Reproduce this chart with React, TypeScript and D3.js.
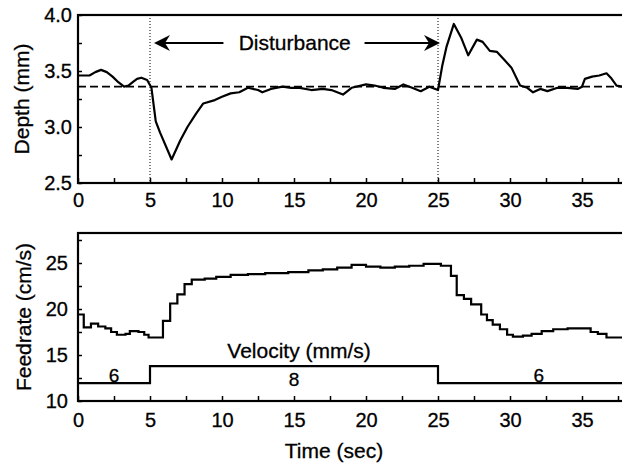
import React, { useRef, useEffect } from 'react';
import * as d3 from 'd3';

// depth trace (top panel)
const depthTime = [0, 0.8, 1.2, 1.6, 2.0, 2.4, 2.8, 3.2, 3.5, 3.8, 4.1, 4.4, 4.8, 5.1, 5.4, 5.7, 6.5, 7.1, 7.6, 8.2, 8.7, 9.5, 10, 10.6, 11.2, 11.8, 12.5, 12.8, 13.4, 14.2, 14.8, 15.4, 16.2, 17.0, 17.6, 18.4, 19.0, 20, 20.6, 21.2, 22, 22.6, 23.2, 23.8, 24.4, 25, 25.3, 25.6, 26.1, 26.6, 27.1, 27.7, 28.1, 28.6, 29.1, 29.6, 30.1, 30.7, 31.2, 31.6, 32.1, 32.6, 33.3, 34, 34.7, 35.0, 35.2, 35.7, 36.2, 36.7, 37.0, 37.4, 37.8];
const depthValue = [3.46, 3.46, 3.49, 3.51, 3.49, 3.45, 3.40, 3.36, 3.37, 3.40, 3.43, 3.44, 3.42, 3.35, 3.05, 2.95, 2.71, 2.88, 3.0, 3.12, 3.21, 3.24, 3.27, 3.30, 3.31, 3.35, 3.33, 3.31, 3.34, 3.36, 3.35, 3.35, 3.33, 3.34, 3.33, 3.29, 3.35, 3.38, 3.37, 3.35, 3.34, 3.38, 3.35, 3.32, 3.36, 3.33, 3.55, 3.72, 3.92, 3.80, 3.64, 3.78, 3.76, 3.68, 3.67, 3.60, 3.53, 3.37, 3.35, 3.31, 3.34, 3.32, 3.35, 3.35, 3.34, 3.36, 3.43, 3.45, 3.46, 3.48, 3.44, 3.37, 3.36];
const depthTarget = 3.36;
const disturbanceStart = 5;
const disturbanceEnd = 25;

// feedrate trace (bottom panel), stepped
const feedTime = [0, 0.4, 0.9, 1.4, 1.9, 2.3, 2.7, 3.3, 3.6, 4.2, 4.6, 4.9, 5.9, 6.4, 6.9, 7.4, 7.9, 8.8, 9.6, 10.6, 11.8, 13.0, 14.6, 16.0, 17.0, 18.0, 19.0, 20.0, 21.0, 22.0, 23.0, 24.0, 25.2, 25.9, 26.3, 26.8, 27.3, 28.0, 28.4, 28.8, 29.3, 29.8, 30.2, 30.9, 31.5, 32.2, 33.0, 34.0, 35.0, 35.6, 36.1, 36.7, 38];
const feedValue = [19.4, 18.0, 18.4, 18.1, 17.9, 17.5, 17.2, 17.3, 17.6, 17.5, 17.2, 16.9, 18.7, 20.6, 21.6, 22.7, 23.2, 23.3, 23.5, 23.7, 23.8, 23.9, 24.0, 24.2, 24.3, 24.5, 24.8, 24.6, 24.5, 24.6, 24.7, 24.9, 24.7, 23.6, 21.5, 21.1, 20.5, 19.4, 18.8, 18.3, 17.8, 17.2, 17.0, 17.1, 17.3, 17.6, 17.8, 17.9, 17.9, 17.5, 17.3, 16.9, 16.9];

// commanded velocity (mm/s)
const velocityTime = [0, 5, 25, 39];
const velocityValue = [6, 8, 6, 6];

const xTicks = d3.range(0, 38, 2.5);
const depthTicks = d3.range(2.5, 4.01, 0.25);
const feedTicks = d3.range(10, 28.3, 2.5);

const font = '"Liberation Sans", Arial, Helvetica, sans-serif';

const App = () => {
    const svgRef = useRef(null);

    useEffect(() => {
        const svg = d3.select(svgRef.current);
        svg.selectAll('*').remove();

        const width = 622;
        const height = 463;
        const left = 78;

        const x = d3.scaleLinear().domain([0, 38]).range([left, left + 14.4 * 38]);
        const yTop = d3.scaleLinear().domain([2.5, 4.0]).range([183, 15]);
        const yBot = d3.scaleLinear().domain([10, 28.26]).range([401, 233]);
        // velocity drawn on the feedrate axis
        const vScale = d3.scaleLinear().domain([6, 8]).range([11.95, 13.8]);

        const g = svg.append('g').style('font-family', font);

        // frames
        g.append('rect')
            .attr('x', x(0)).attr('y', yTop(4.0))
            .attr('width', x(38) - x(0)).attr('height', yTop(2.5) - yTop(4.0))
            .attr('fill', 'none').attr('stroke', '#000').attr('stroke-width', 2.2);
        g.append('rect')
            .attr('x', x(0)).attr('y', yBot(28.26))
            .attr('width', x(38) - x(0)).attr('height', yBot(10) - yBot(28.26))
            .attr('fill', 'none').attr('stroke', '#000').attr('stroke-width', 2.2);

        const fmtX = d => (d % 5 === 0 ? d : '');

        const styleAxis = (sel, size) => {
            sel.select('.domain').remove();
            sel.selectAll('.tick line').attr('stroke', '#000').attr('stroke-width', 1.5);
            sel.selectAll('text').style('font-size', size).style('fill', '#000').style('font-family', font)
                .attr('stroke', '#000').attr('stroke-width', 0.3);
        };

        g.append('g')
            .attr('transform', `translate(0,${yTop(2.5)})`)
            .call(d3.axisBottom(x).tickValues(xTicks).tickFormat(fmtX).tickSize(-5).tickPadding(10))
            .call(s => styleAxis(s, '20px'));

        g.append('g')
            .attr('transform', `translate(0,${yBot(10)})`)
            .call(d3.axisBottom(x).tickValues(xTicks).tickFormat(fmtX).tickSize(-5).tickPadding(12))
            .call(s => styleAxis(s, '20px'));

        g.append('g')
            .attr('transform', `translate(${left},0)`)
            .call(d3.axisLeft(yTop).tickValues(depthTicks)
                .tickFormat(d => (Math.abs(d * 2 - Math.round(d * 2)) < 1e-6 ? d3.format('.1f')(d) : ''))
                .tickSize(-4).tickPadding(6))
            .call(s => styleAxis(s, '20px'));

        g.append('g')
            .attr('transform', `translate(${left},0)`)
            .call(d3.axisLeft(yBot).tickValues(feedTicks)
                .tickFormat(d => (d % 5 === 0 ? d : ''))
                .tickSize(-4).tickPadding(10))
            .call(s => styleAxis(s, '20px'));

        // disturbance markers
        [disturbanceStart, disturbanceEnd].forEach(t => {
            g.append('line')
                .attr('x1', x(t)).attr('x2', x(t))
                .attr('y1', yTop(4.0)).attr('y2', yTop(2.5))
                .attr('stroke', '#000').attr('stroke-width', 1)
                .attr('stroke-dasharray', '1,2');
        });

        g.append('line')
            .attr('x1', x(0)).attr('x2', x(38))
            .attr('y1', yTop(depthTarget)).attr('y2', yTop(depthTarget))
            .attr('stroke', '#000').attr('stroke-width', 1.8)
            .attr('stroke-dasharray', '8,4');

        const depthLine = d3.line()
            .x((d, i) => x(depthTime[i]))
            .y(d => yTop(d));
        g.append('path')
            .datum(depthValue)
            .attr('d', depthLine)
            .attr('fill', 'none').attr('stroke', '#000').attr('stroke-width', 2.2)
            .attr('stroke-linejoin', 'round');

        // arrows + label
        const arrowY = yTop(3.75);
        const arrow = (x1, x2) => {
            const dir = Math.sign(x2 - x1);
            g.append('line')
                .attr('x1', x1).attr('x2', x2 - dir * 6)
                .attr('y1', arrowY).attr('y2', arrowY)
                .attr('stroke', '#000').attr('stroke-width', 2.2);
            g.append('path')
                .attr('d', `M${x2},${arrowY} L${x2 - dir * 16},${arrowY - 8} L${x2 - dir * 11},${arrowY} L${x2 - dir * 16},${arrowY + 8} Z`)
                .attr('fill', '#000');
        };
        arrow(x(10.1), x(disturbanceStart) + 4);
        arrow(x(19.9), x(disturbanceEnd) + 2);
        g.append('text')
            .attr('x', x(15.05)).attr('y', arrowY)
            .attr('dy', '0.35em')
            .attr('text-anchor', 'middle')
            .style('font-size', '21px')
            .attr('stroke', '#000').attr('stroke-width', 0.3)
            .text('Disturbance');

        // feedrate
        const feedLine = d3.line()
            .x((d, i) => x(feedTime[i]))
            .y(d => yBot(d))
            .curve(d3.curveStepAfter);
        g.append('path')
            .datum(feedValue)
            .attr('d', feedLine)
            .attr('fill', 'none').attr('stroke', '#000').attr('stroke-width', 2.2);

        const velLine = d3.line()
            .x((d, i) => x(velocityTime[i]))
            .y(d => yBot(vScale(d)))
            .curve(d3.curveStepAfter);
        g.append('path')
            .datum(velocityValue)
            .attr('d', velLine)
            .attr('fill', 'none').attr('stroke', '#000').attr('stroke-width', 2.2);

        velocityValue.slice(0, -1).forEach((v, i) => {
            const mid = (velocityTime[i] + velocityTime[i + 1]) / 2;
            const yy = v === 8 ? yBot(vScale(v)) + 20 : yBot(vScale(v)) - 1;
            g.append('text')
                .attr('x', x(mid)).attr('y', yy)
                .attr('text-anchor', 'middle')
                .style('font-size', '19px')
                .attr('stroke', '#000').attr('stroke-width', 0.3)
                .text(v);
        });

        g.append('text')
            .attr('x', x(15.35)).attr('y', yBot(vScale(8)) - 8)
            .attr('text-anchor', 'middle')
            .style('font-size', '21px')
            .attr('stroke', '#000').attr('stroke-width', 0.3)
            .text('Velocity (mm/s)');

        // axis titles
        g.append('text')
            .attr('transform', `translate(29,${(yTop(4.0) + yTop(2.5)) / 2}) rotate(-90)`)
            .attr('text-anchor', 'middle')
            .style('font-size', '21px')
            .attr('stroke', '#000').attr('stroke-width', 0.3)
            .text('Depth (mm)');
        g.append('text')
            .attr('transform', `translate(31,${(yBot(28.26) + yBot(10)) / 2}) rotate(-90)`)
            .attr('text-anchor', 'middle')
            .style('font-size', '21px')
            .attr('stroke', '#000').attr('stroke-width', 0.3)
            .text('Feedrate (cm/s)');
        g.append('text')
            .attr('x', 334).attr('y', 458)
            .attr('text-anchor', 'middle')
            .style('font-size', '21px')
            .attr('stroke', '#000').attr('stroke-width', 0.3)
            .text('Time (sec)');

        svg.attr('width', width).attr('height', height);
    }, []);

    return (
        <div style={{ position: 'absolute', left: 0, top: 0, width: 622, height: 463, background: '#fff' }}>
            <svg ref={svgRef} width={622} height={463} style={{ display: 'block' }}></svg>
        </div>
    );
};

export default App;
